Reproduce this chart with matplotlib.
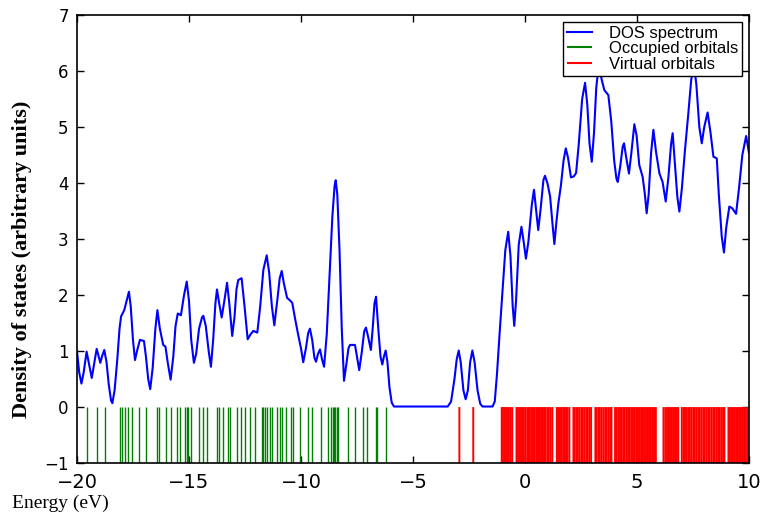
import matplotlib
matplotlib.use("Agg")
import matplotlib.pyplot as plt
import numpy as np

# DOS curve (energy in eV, density)
dos_energy = [
    -20.00, -19.90, -19.80, -19.70, -19.57, -19.45, -19.34, -19.22, -19.12, -19.04,
    -18.96, -18.87, -18.78, -18.68, -18.58, -18.48, -18.42, -18.32, -18.20, -18.10,
    -18.03, -17.89, -17.78, -17.68, -17.60, -17.50, -17.41, -17.32, -17.19, -17.01,
    -16.92, -16.82, -16.73, -16.62, -16.50, -16.41, -16.30, -16.15, -16.05, -15.95,
    -15.82, -15.70, -15.60, -15.50, -15.36, -15.22, -15.10, -15.00, -14.90, -14.78,
    -14.68, -14.55, -14.42, -14.36, -14.25, -14.12, -14.02, -13.92, -13.82, -13.75,
    -13.65, -13.54, -13.42, -13.30, -13.20, -13.07, -12.97, -12.88, -12.80, -12.65,
    -12.52, -12.38, -12.25, -12.13, -11.95, -11.82, -11.68, -11.53, -11.42, -11.30,
    -11.19, -11.06, -10.95, -10.86, -10.76, -10.62, -10.48, -10.39, -10.25, -10.12,
    -10.00, -9.90, -9.78, -9.68, -9.60, -9.50, -9.40, -9.33, -9.24, -9.15,
    -9.06, -8.97, -8.85, -8.72, -8.60, -8.50, -8.45, -8.38, -8.28, -8.18,
    -8.08, -7.98, -7.88, -7.81, -7.59, -7.50, -7.40, -7.28, -7.18, -7.10,
    -7.00, -6.88, -6.80, -6.72, -6.65, -6.55, -6.45, -6.37, -6.30, -6.22,
    -6.14, -6.05, -5.95, -5.85, -3.45, -3.30, -3.15, -3.05, -2.96, -2.87,
    -2.75, -2.65, -2.55, -2.45, -2.35, -2.25, -2.12, -2.00, -1.90, -1.45,
    -1.35, -1.25, -1.12, -1.00, -0.88, -0.75, -0.65, -0.55, -0.48, -0.40,
    -0.28, -0.16, -0.06, 0.04, 0.15, 0.30, 0.40, 0.50, 0.59, 0.70,
    0.82, 0.89, 1.00, 1.12, 1.22, 1.31, 1.40, 1.49, 1.60, 1.72,
    1.82, 1.92, 2.05, 2.18, 2.28, 2.40, 2.55, 2.68, 2.78, 2.88,
    2.98, 3.08, 3.18, 3.30, 3.42, 3.54, 3.72, 3.85, 3.98, 4.08,
    4.14, 4.25, 4.36, 4.42, 4.52, 4.64, 4.75, 4.88, 4.98, 5.10,
    5.25, 5.35, 5.43, 5.52, 5.63, 5.73, 5.85, 6.00, 6.14, 6.28,
    6.40, 6.52, 6.59, 6.68, 6.80, 6.89, 7.00, 7.14, 7.28, 7.42,
    7.55, 7.65, 7.78, 7.89, 8.00, 8.15, 8.28, 8.41, 8.56, 8.65,
    8.78, 8.88, 8.98, 9.12, 9.25, 9.42, 9.55, 9.70, 9.87, 10.00,
]
dos_value = [
    1.00, 0.62, 0.42, 0.62, 0.99, 0.75, 0.52, 0.80, 1.04, 0.92,
    0.79, 0.92, 1.02, 0.80, 0.40, 0.12, 0.07, 0.30, 0.85, 1.40,
    1.62, 1.73, 1.90, 2.06, 1.80, 1.20, 0.84, 1.00, 1.20, 1.18,
    0.90, 0.50, 0.32, 0.70, 1.40, 1.73, 1.40, 1.11, 1.08, 0.80,
    0.49, 0.90, 1.45, 1.67, 1.64, 2.00, 2.24, 1.90, 1.20, 0.79,
    0.95, 1.40, 1.60, 1.63, 1.45, 1.00, 0.72, 1.20, 1.85, 2.10,
    1.85, 1.60, 1.90, 2.22, 1.85, 1.27, 1.60, 2.10, 2.27, 2.30,
    1.80, 1.21, 1.30, 1.36, 1.33, 1.80, 2.45, 2.71, 2.40, 1.80,
    1.46, 1.90, 2.30, 2.43, 2.20, 1.95, 1.90, 1.86, 1.55, 1.28,
    1.05, 0.80, 1.05, 1.32, 1.40, 1.20, 0.88, 0.81, 0.95, 1.03,
    0.85, 0.72, 1.30, 2.40, 3.40, 3.95, 4.05, 3.80, 2.80, 1.40,
    0.47, 0.75, 1.05, 1.11, 1.11, 0.90, 0.66, 1.00, 1.35, 1.42,
    1.25, 1.02, 1.40, 1.85, 1.97, 1.40, 0.90, 0.76, 0.90, 1.01,
    0.80, 0.35, 0.08, 0.01, 0.01, 0.10, 0.50, 0.85, 1.01, 0.80,
    0.30, 0.14, 0.30, 0.80, 1.01, 0.80, 0.30, 0.06, 0.01, 0.01,
    0.10, 0.60, 1.40, 2.10, 2.80, 3.13, 2.70, 1.80, 1.45, 1.90,
    2.90, 3.22, 2.95, 2.65, 2.95, 3.60, 3.88, 3.50, 3.16, 3.55,
    4.05, 4.13, 4.00, 3.76, 3.30, 2.91, 3.30, 3.64, 3.95, 4.40,
    4.62, 4.45, 4.10, 4.12, 4.18, 4.70, 5.50, 5.79, 5.40, 4.70,
    4.38, 4.90, 5.70, 6.15, 5.85, 5.66, 5.57, 5.10, 4.40, 4.08,
    4.02, 4.30, 4.65, 4.71, 4.45, 4.17, 4.55, 5.05, 4.85, 4.32,
    4.11, 3.80, 3.46, 3.80, 4.55, 4.95, 4.55, 4.17, 4.02, 3.67,
    4.10, 4.70, 4.89, 4.40, 3.75, 3.49, 3.90, 4.59, 5.20, 5.85,
    6.10, 5.75, 5.00, 4.71, 5.00, 5.26, 4.90, 4.47, 4.44, 3.80,
    3.05, 2.76, 3.20, 3.58, 3.55, 3.45, 3.90, 4.50, 4.84, 4.53,
]

# orbital energies (eV)
occupied = [
    -19.57, -19.09, -18.75, -18.08, -17.98, -17.86, -17.71, -17.56, -17.22, -16.92,
    -16.44, -16.34, -16.03, -15.82, -15.55, -15.40, -15.18, -15.10, -15.03, -14.93,
    -14.54, -14.39, -14.21, -13.76, -13.66, -13.47, -13.24, -13.17, -12.87, -12.68,
    -12.50, -12.28, -12.05, -11.76, -11.68, -11.61, -11.53, -11.38, -11.31, -11.06,
    -10.94, -10.83, -10.67, -10.46, -10.34, -10.04, -9.67, -9.52, -9.12, -8.78,
    -8.68, -8.56, -8.51, -8.47, -8.41, -8.35, -7.89, -7.59, -7.22, -7.04,
    -6.65, -6.59, -6.21,
]
virtual = [
    -2.93, -2.31,
    -1.04, -0.99, -0.93, -0.86, -0.80, -0.72, -0.64, -0.57, -0.38, -0.32,
    -0.26, -0.18, -0.12, -0.05, 0.02, 0.10, 0.16, 0.22, 0.30, 0.36,
    0.44, 0.52, 0.58, 0.66, 0.72, 0.80, 0.86, 0.92, 1.00, 1.06,
    1.14, 1.22, 1.42, 1.48, 1.56, 1.62, 1.70, 1.78, 1.84, 1.90,
    1.98, 2.16, 2.22, 2.30, 2.36, 2.44, 2.52, 2.58, 2.66, 2.74,
    2.80, 2.88, 2.95, 3.14, 3.20, 3.28, 3.34, 3.42, 3.50, 3.58,
    3.64, 3.72, 3.80, 3.86, 4.02, 4.08, 4.16, 4.24, 4.30, 4.38,
    4.44, 4.52, 4.60, 4.66, 4.74, 4.82, 4.88, 4.96, 5.04, 5.10,
    5.18, 5.26, 5.32, 5.40, 5.48, 5.54, 5.62, 5.70, 5.76, 5.84,
    6.18, 6.26, 6.34, 6.42, 6.48, 6.56, 6.64, 6.70, 6.78, 6.84,
    7.00, 7.08, 7.14, 7.22, 7.30, 7.36, 7.44, 7.52, 7.58, 7.66,
    7.74, 7.80, 7.88, 7.96, 8.02, 8.10, 8.18, 8.24, 8.32, 8.40,
    8.46, 8.54, 8.62, 8.68, 8.76, 8.84, 8.90, 9.08, 9.14, 9.20,
    9.28, 9.34, 9.42, 9.50, 9.56, 9.64, 9.72, 9.78, 9.86, 9.94,
]

fig = plt.figure(figsize=(7.62, 5.18), dpi=100)
ax = fig.add_axes([0.101, 0.106, 0.882, 0.865])

ax.plot(dos_energy, dos_value, color='#0000ff', lw=1.5, label='DOS spectrum',
        solid_joinstyle='round')
ax.vlines(occupied, -1, 0, color='#008000', lw=1.0, label='Occupied orbitals')
red = ax.vlines(virtual, -1, 0, color='#ff0000', lw=1.4, label='Virtual orbitals')
red.set_snap(False)

ax.set_xlim(-20, 10)
ax.set_ylim(-1, 7)
ax.set_xticks([-20, -15, -10, -5, 0, 5, 10])
ax.set_yticks(range(-1, 8))
ax.tick_params(direction='in', top=True, right=True, length=5, width=1)
ax.tick_params(axis='x', labelsize=14, pad=7)
ax.tick_params(axis='y', labelsize=12, pad=6)
for sp in ax.spines.values():
    sp.set_linewidth(1.2)

leg = ax.legend(loc='upper right', bbox_to_anchor=(0.99, 0.985), borderaxespad=0,
                fancybox=False, framealpha=1, edgecolor='black',
                prop={'family': 'Liberation Sans', 'size': 12},
                labelspacing=0.02, borderpad=0.25, handlelength=1.5, handletextpad=1.0)
leg.get_frame().set_linewidth(1.0)
for h in leg.legend_handles:
    h.set_linewidth(1.5)
leg.set_zorder(5)

fig.text(22 / 762, 0.50, 'Density of states (arbitrary units)', rotation=90,
         ha='center', va='center', family='Liberation Serif', weight='bold', fontsize=16)
fig.text(12 / 762, 0.02, 'Energy (eV)', ha='left', va='baseline',
         family='Liberation Serif', fontsize=14)

fig.savefig('out.png', dpi=100)
